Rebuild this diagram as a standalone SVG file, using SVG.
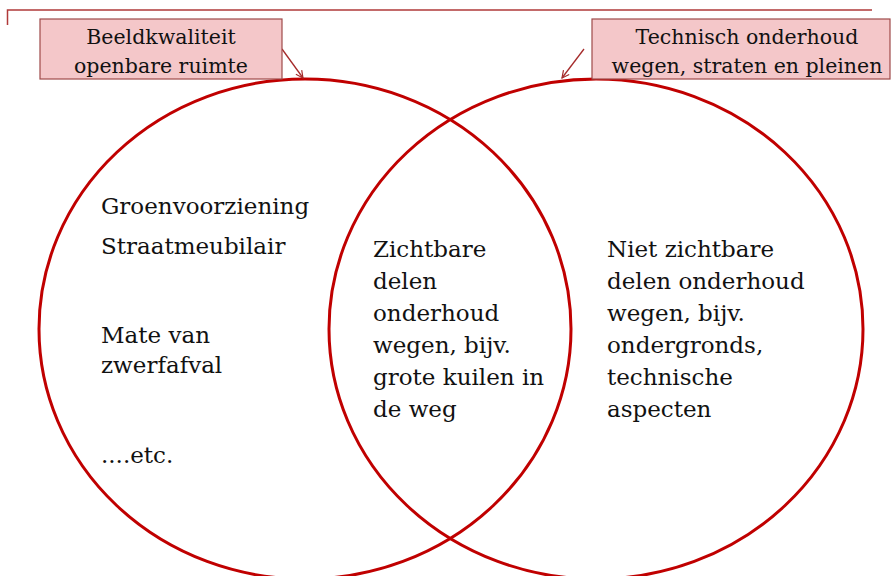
<svg xmlns="http://www.w3.org/2000/svg" width="891" height="576" viewBox="0 0 891 576">
<style>
  .t { font-family: "DejaVu Serif", "Liberation Serif", serif; font-size: 23px; fill: #111; }
  .bt { font-family: "DejaVu Serif", "Liberation Serif", serif; font-size: 20.5px; fill: #111; text-anchor: middle; }
  .box { fill: #F4C7C9; stroke: #9E4A4A; stroke-width: 1.2; }
  .ring { fill: none; stroke: #C00000; stroke-width: 3; }
  .arr { stroke: #A52A2A; stroke-width: 1.3; fill: none; }
</style>
<defs>
  <marker id="ah" viewBox="0 0 10 10" refX="9" refY="5" markerWidth="9" markerHeight="9" orient="auto" markerUnits="userSpaceOnUse">
    <path d="M1,1 L9,5 L1,9" fill="none" stroke="#A52A2A" stroke-width="1.3"/>
  </marker>
</defs>
<rect width="891" height="576" fill="#fff"/>
<path d="M7.5,25 L7.5,10 L872,10" fill="none" stroke="#B03A3A" stroke-width="1.5"/>
<g id="circle-left"><ellipse class="ring" cx="305" cy="329" rx="266" ry="250"/></g>
<g id="circle-right"><ellipse class="ring" cx="596" cy="329" rx="267" ry="250"/></g>
<g id="connectors">
  <line class="arr" x1="282" y1="49" x2="303" y2="78" marker-end="url(#ah)"/>
  <line class="arr" x1="584" y1="49" x2="562" y2="78" marker-end="url(#ah)"/>
</g>
<g id="label-left">
  <rect class="box" x="40" y="19" width="242" height="60"/>
  <text class="bt" x="161" y="44">Beeldkwaliteit</text>
  <text class="bt" x="161" y="72.5">openbare ruimte</text>
</g>
<g id="label-right">
  <rect class="box" x="592" y="19" width="298" height="60"/>
  <text class="bt" x="747" y="44">Technisch onderhoud</text>
  <text class="bt" x="747" y="72.5">wegen, straten en pleinen</text>
</g>
<g id="text-left">
  <text class="t" x="101" y="214">Groenvoorziening</text>
  <text class="t" x="101" y="254">Straatmeubilair</text>
  <text class="t" x="101" y="343">Mate van</text>
  <text class="t" x="101" y="373">zwerfafval</text>
  <text class="t" x="101" y="463">....etc.</text>
</g>
<g id="text-middle">
  <text class="t" x="373" y="257">Zichtbare</text>
  <text class="t" x="373" y="289">delen</text>
  <text class="t" x="373" y="321">onderhoud</text>
  <text class="t" x="373" y="353">wegen, bijv.</text>
  <text class="t" x="373" y="385">grote kuilen in</text>
  <text class="t" x="373" y="417">de weg</text>
</g>
<g id="text-right">
  <text class="t" x="607" y="257">Niet zichtbare</text>
  <text class="t" x="607" y="289">delen onderhoud</text>
  <text class="t" x="607" y="321">wegen, bijv.</text>
  <text class="t" x="607" y="353">ondergronds,</text>
  <text class="t" x="607" y="385">technische</text>
  <text class="t" x="607" y="417">aspecten</text>
</g>
</svg>
